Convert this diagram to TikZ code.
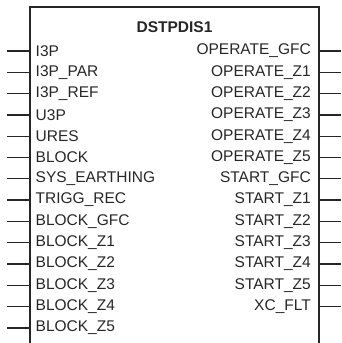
\documentclass[tikz,border=0pt]{standalone}
\usepackage{fontspec}
\setmainfont{Liberation Sans}
\begin{document}
\begin{tikzpicture}[x=1pt,y=-1pt,
  boxline/.style={line width=1.3pt,draw=black!85},
  pin/.style={line width=1.3pt,draw=black!85},
  lbl/.style={font=\fontsize{15.5}{15.5}\selectfont,text=black!85,inner sep=0pt},
  title/.style={font=\fontsize{15.5}{15.5}\selectfont\bfseries,text=black!85,inner sep=0pt}]
\useasboundingbox (0,0) rectangle (341,343);
\coordinate (bl) at (30,345);
\coordinate (tl) at (30,7);
\coordinate (tr) at (319,7);
\coordinate (br) at (319,345);
\draw[boxline] (bl) -- (tl) -- (tr) -- (br);
\node[title] (t) at (174.5,27) {DSTPDIS1};
\foreach \n [count=\i from 0] in {I3P,I3P\_PAR,I3P\_REF,U3P,URES,BLOCK,SYS\_EARTHING,TRIGG\_REC,BLOCK\_GFC,BLOCK\_Z1,BLOCK\_Z2,BLOCK\_Z3,BLOCK\_Z4,BLOCK\_Z5}{
  \coordinate (li\i) at (30,51+21.3*\i);
  \coordinate (le\i) at (7,51+21.3*\i);
  \draw[pin] (le\i) -- (li\i);
  \node[lbl,anchor=west] (ln\i) at (35.5,51+21.3*\i) {\n};
}
\foreach \n [count=\i from 0] in {OPERATE\_GFC,OPERATE\_Z1,OPERATE\_Z2,OPERATE\_Z3,OPERATE\_Z4,OPERATE\_Z5,START\_GFC,START\_Z1,START\_Z2,START\_Z3,START\_Z4,START\_Z5,XC\_FLT}{
  \coordinate (ri\i) at (319,51+21.3*\i);
  \coordinate (re\i) at (341,51+21.3*\i);
  \draw[pin] (ri\i) -- (re\i);
  \node[lbl,anchor=east] (rn\i) at (311,51+21.3*\i) {\n};
}
\end{tikzpicture}
\end{document}
